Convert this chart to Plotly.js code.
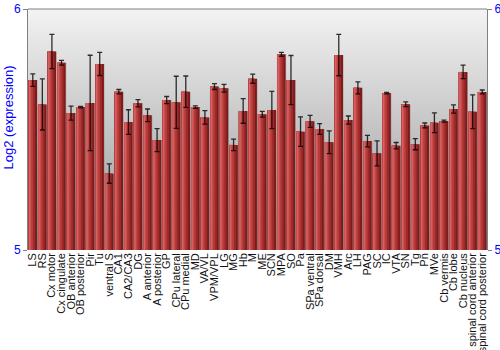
<!DOCTYPE html>
<html>
<head>
<meta charset="utf-8">
<script src="https://cdn.plot.ly/plotly-3.0.1.min.js"></script>
<style>html,body{margin:0;padding:0;background:#fff;}#chart{width:500px;height:350px;}</style>
</head>
<body>
<div id="chart"></div>
<script>
const regions = ["LS","RS","Cx motor","Cx cingulate","OB anterior","OB posterior","Pir","Tu","ventral S","CA1","CA2/CA3","DG","A anterior","A posterior","GP","CPu lateral","CPu medial","MD","VA/VL","VPM/VPL","LG","MG","Hb","M","ME","SCN","MPA","SO","Pa","SPa ventral","SPa dorsal","DM","VMH","Arc","LH","PAG","SC","IC","VTA","SN","Tg","Pn","MVe","Cb vermis","Cb lobe","Cb nucleus","spinal cord anterior","spinal cord posterior"];

const expression = [5.705,5.604,5.824,5.777,5.568,5.593,5.610,5.772,5.317,5.657,5.531,5.609,5.559,5.456,5.622,5.613,5.657,5.593,5.550,5.678,5.671,5.436,5.577,5.711,5.563,5.581,5.812,5.705,5.491,5.534,5.502,5.447,5.809,5.539,5.673,5.452,5.401,5.651,5.433,5.605,5.439,5.517,5.528,5.535,5.585,5.739,5.574,5.656];

const errors = [0.026,0.106,0.071,0.010,0.029,0.003,0.198,0.048,0.040,0.009,0.051,0.015,0.026,0.048,0.015,0.108,0.065,0.005,0.028,0.012,0.016,0.024,0.051,0.019,0.012,0.077,0.008,0.102,0.061,0.025,0.022,0.047,0.086,0.017,0.025,0.024,0.052,0.003,0.013,0.010,0.023,0.010,0.041,0.004,0.017,0.028,0.070,0.008];

const yTicks = [5, 6];

const bgSvg = 'data:image/svg+xml;utf8,' + encodeURIComponent(
  '<svg xmlns="http://www.w3.org/2000/svg" width="10" height="100" preserveAspectRatio="none">' +
  '<defs><linearGradient id="g" x1="0" y1="0" x2="0" y2="1">' +
  '<stop offset="0" stop-color="#f3f3f3"/><stop offset="1" stop-color="#959595"/>' +
  '</linearGradient></defs><rect width="10" height="100" fill="url(#g)"/></svg>');

// layered bars to imitate the shaded (cylindrical) look
const layers = [
  {w: 0.97, off: -0.47, c: 'rgba(110,80,80,0.35)'},
  {w: 0.90, off: -0.46, c: '#7e1b1b'},
  {w: 0.70, off: -0.46, c: '#9c2a2a'},
  {w: 0.50, off: -0.46, c: '#b53a3a'},
  {w: 0.30, off: -0.44, c: '#c84c4c'},
  {w: 0.14, off: -0.40, c: '#d66262'}
];

const traces = layers.map(L => ({
  type: 'bar',
  x: regions,
  y: expression.map(v => v - 5),
  base: 5,
  width: L.w,
  offset: L.off,
  marker: {color: L.c, line: {width: 0}},
  hoverinfo: 'skip',
  showlegend: false
}));

traces.push({
  type: 'scatter',
  mode: 'markers',
  x: regions,
  y: expression,
  marker: {size: 1, opacity: 0},
  error_y: {type: 'data', array: errors, visible: true, color: 'rgba(0,0,0,0.8)', thickness: 1.3, width: 2.5},
  hoverinfo: 'skip',
  showlegend: false
});

const yAxisCommon = {
  range: [5, 6],
  tickmode: 'array',
  tickvals: yTicks,
  ticktext: yTicks.map(String),
  ticks: 'outside',
  ticklen: 4,
  tickwidth: 1,
  tickcolor: '#808080',
  showline: true,
  linecolor: '#808080',
  linewidth: 1,
  showgrid: false,
  zeroline: false,
  fixedrange: true,
  tickfont: {family: 'Liberation Sans, Arial, sans-serif', size: 12, color: '#0000ff'}
};

const layout = {
  width: 500,
  height: 350,
  margin: {l: 28, r: 13, t: 9, b: 100, pad: 0},
  paper_bgcolor: '#ffffff',
  plot_bgcolor: 'rgba(0,0,0,0)',
  barmode: 'overlay',
  showlegend: false,
  xaxis: {
    type: 'category',
    range: [-0.5, 47.5],
    tickmode: 'array',
    tickvals: regions,
    ticktext: regions,
    tickangle: -90,
    ticks: '',
    showgrid: false,
    zeroline: false,
    showline: false,
    fixedrange: true,
    tickfont: {family: 'Liberation Sans, Arial, sans-serif', size: 11, color: '#111111'}
  },
  yaxis: Object.assign({}, yAxisCommon, {side: 'left'}),
  yaxis2: Object.assign({}, yAxisCommon, {side: 'right', overlaying: 'y', matches: 'y'}),
  images: [{
    source: bgSvg, xref: 'paper', yref: 'paper', x: 0, y: 1, sizex: 1, sizey: 1,
    xanchor: 'left', yanchor: 'top', sizing: 'stretch', layer: 'below'
  }],
  shapes: [{
    type: 'line', xref: 'paper', yref: 'paper', x0: 0, x1: 1, y0: 1, y1: 1,
    line: {color: '#808080', width: 1}
  }],
  annotations: [{
    text: 'Log2 (expression)',
    xref: 'paper', yref: 'paper',
    x: -0.0425, y: 0.552,
    xanchor: 'center', yanchor: 'middle',
    textangle: -90,
    showarrow: false,
    font: {family: 'Liberation Sans, Arial, sans-serif', size: 13, color: '#0000ff'}
  }]
};

// dummy trace to ensure yaxis2 is drawn
traces.push({type: 'scatter', mode: 'none', x: [regions[0]], y: [5], yaxis: 'y2', hoverinfo: 'skip', showlegend: false});

Plotly.newPlot('chart', traces, layout, {staticPlot: true, displayModeBar: false});
</script>
</body>
</html>
